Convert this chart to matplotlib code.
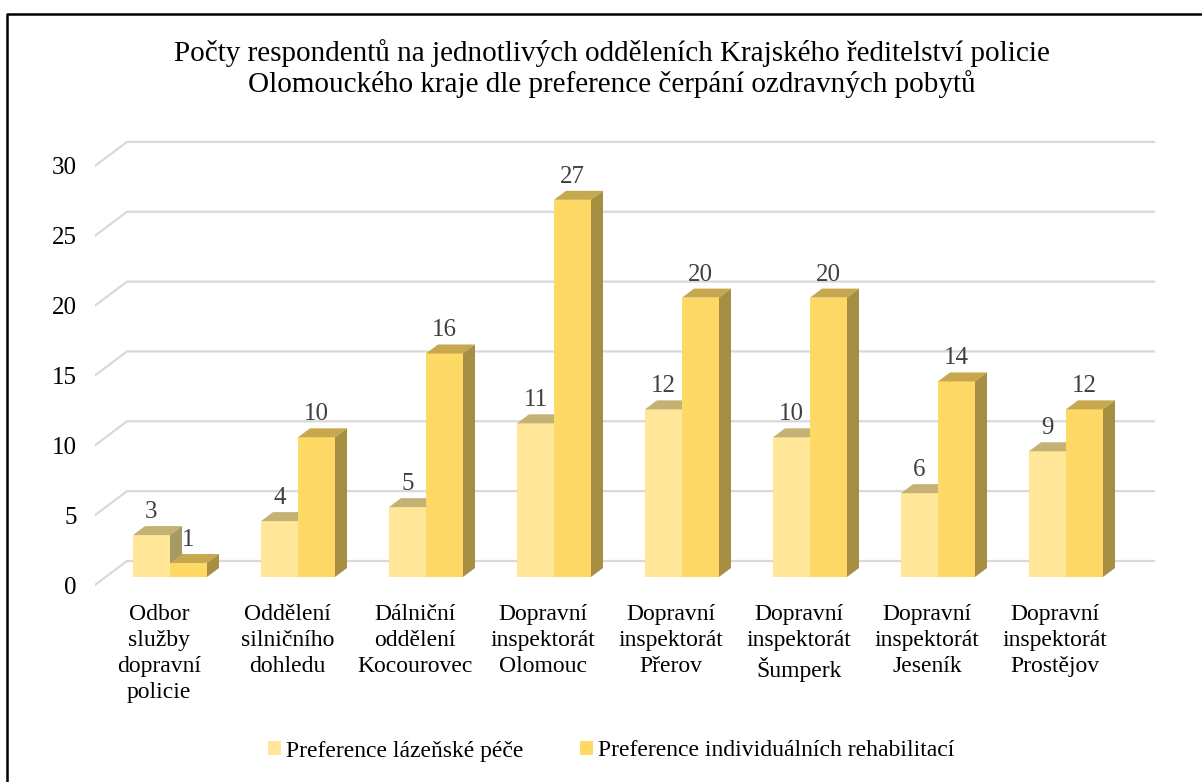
import matplotlib
matplotlib.use("Agg")
import matplotlib.pyplot as plt
from matplotlib.patches import Polygon, Patch
from matplotlib.lines import Line2D

plt.rcParams['font.family'] = ['Liberation Serif', 'DejaVu Serif']

# data
categories = [
    "Odbor\nslužby\ndopravní\npolicie",
    "Oddělení\nsilničního\ndohledu",
    "Dálniční\noddělení\nKocourovec",
    "Dopravní\ninspektorát\nOlomouc",
    "Dopravní\ninspektorát\nPřerov",
    "Dopravní\ninspektorát\nŠumperk",
    "Dopravní\ninspektorát\nJeseník",
    "Dopravní\ninspektorát\nProstějov",
]
lazne = [3, 4, 5, 11, 12, 10, 6, 9]
rehab = [1, 10, 16, 27, 20, 20, 14, 12]
series_names = ["Preference lázeňské péče", "Preference individuálních rehabilitací"]
yticks = [0, 5, 10, 15, 20, 25, 30]
title = ("Počty respondentů na jednotlivých odděleních Krajského ředitelství policie\n"
         "Olomouckého kraje dle preference čerpání ozdravných pobytů")

# barvy (front, top, side)
c_light = ("#FFE699", "#C4B274", "#A59964")
c_dark = ("#FFD966", "#C8A84E", "#A68E42")

W, H = 1202, 782
fig = plt.figure(figsize=(W / 100, H / 100), dpi=100)

# pixel geometry -> data units
PX = 128.0    # px per category
PY = 13.97    # px per value unit
x_left_px, x_right_px = 95, 1160
y0_px = 585   # value 0 on the front floor edge
y_bot_px, y_top_px = 589.2, 135
ax = fig.add_axes([x_left_px / W, 1 - y_bot_px / H,
                   (x_right_px - x_left_px) / W, (y_bot_px - y_top_px) / H])
c0 = 159.3
ax.set_xlim((x_left_px - c0) / PX, (x_right_px - c0) / PX)
ax.set_ylim(-(y_bot_px - y0_px) / PY, (y0_px - y_top_px) / PY)

floor_dx, floor_dy = 32 / PX, 24 / PY
front_dx, front_dy = 10.7 / PX, 8 / PY
bar_dx, bar_dy = 12 / PX, 9 / PY
bw = 37 / PX

# mrizka (zadni stena + levy diagonalni kus)
xl = (95 - c0) / PX
xr = (1154 - c0) / PX
for v in yticks:
    ax.add_line(Line2D([xl, xl + floor_dx, xr], [v, v + floor_dy, v + floor_dy],
                       color="#D9D9D9", lw=1.6, zorder=1))


def bar3d(x, v, cols, z):
    y0 = front_dy
    ax.bar(x, v, width=bw, bottom=y0, align='edge', color=cols[0], lw=0, zorder=z)
    top = [(x, y0 + v), (x + bw, y0 + v), (x + bw + bar_dx, y0 + v + bar_dy), (x + bar_dx, y0 + v + bar_dy)]
    side = [(x + bw, y0), (x + bw + bar_dx, y0 + bar_dy), (x + bw + bar_dx, y0 + v + bar_dy), (x + bw, y0 + v)]
    ax.add_patch(Polygon(top, closed=True, facecolor=cols[1], lw=0, zorder=z))
    ax.add_patch(Polygon(side, closed=True, facecolor=cols[2], lw=0, zorder=z))
    ax.text(x + bw / 2, y0 + v + 17 / PY, str(v), ha='center', va='baseline',
            fontsize=18, color="#404040", zorder=z + 1)


for i in range(len(categories)):
    xs = i + front_dx - bw
    bar3d(xs, lazne[i], c_light, 3)
    bar3d(xs + bw, rehab[i], c_dark, 4)

for s in ax.spines.values():
    s.set_visible(False)
ax.set_yticks(yticks)
ax.set_yticklabels([str(t) for t in yticks], fontsize=18)
ax.set_xticks(range(len(categories)))
ax.set_xticklabels(categories, fontsize=17, linespacing=1.3)
ax.tick_params(axis='y', length=0, pad=13)
ax.tick_params(axis='x', length=0, pad=11)
ax.set_facecolor('none')

fig.text(612 / W, 1 - 39 / H, title, ha='center', va='top', fontsize=21, linespacing=1.12)

handles = [Patch(facecolor=c_light[0], lw=0), Patch(facecolor=c_dark[0], lw=0)]
fig.legend(handles, series_names, loc='center', bbox_to_anchor=(611 / W, 1 - 751 / H),
           ncol=2, frameon=False, fontsize=17, handlelength=0.55, handleheight=0.55,
           handletextpad=0.22, columnspacing=2.4, borderpad=0, borderaxespad=0)

# ramecek
fig.add_artist(Line2D([7 / W, 7 / W, 1.0], [0.0, 1 - 14 / H, 1 - 14 / H],
                      transform=fig.transFigure, color='black', lw=1.8))

fig.savefig("out.png", dpi=100)
